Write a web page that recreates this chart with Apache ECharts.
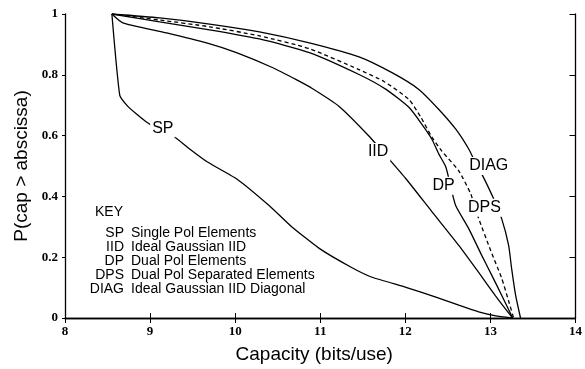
<!DOCTYPE html>
<html>
<head>
<meta charset="utf-8">
<script src="https://cdn.jsdelivr.net/npm/echarts@6/dist/echarts.min.js"></script>
<style>
  html, body { margin: 0; padding: 0; background: #fff; }
  #chart { width: 585px; height: 369px; }
</style>
</head>
<body>
<div id="chart"></div>
<script>
// Complementary CDF of capacity for five array configurations
const spCap   = [8.551, 8.644, 8.738, 8.844, 8.961, 9.113, 9.277, 9.465, 9.675, 10.015, 10.402, 10.660, 10.988, 11.363, 11.609, 12.007, 12.359, 12.628, 12.862, 13.062, 13.249];
const spProb  = [1.0, 0.732, 0.696, 0.670, 0.644, 0.618, 0.598, 0.556, 0.513, 0.458, 0.369, 0.301, 0.229, 0.167, 0.134, 0.101, 0.069, 0.042, 0.020, 0.007, 0.0];

const iidCap  = [8.551, 8.680, 9.195, 9.664, 10.015, 10.437, 10.718, 10.906, 11.222, 11.574, 11.808, 12.007, 12.312, 12.628, 12.862, 13.062, 13.179, 13.261];
const iidProb = [1.0, 0.971, 0.938, 0.905, 0.873, 0.824, 0.784, 0.755, 0.696, 0.598, 0.523, 0.458, 0.350, 0.239, 0.150, 0.072, 0.029, 0.0];

const dpCap   = [8.551, 9.113, 9.699, 10.285, 10.871, 11.456, 11.773, 12.042, 12.195, 12.312, 12.394, 12.476, 12.534, 12.593, 12.745, 12.898, 13.015, 13.132, 13.249, 13.260];
const dpProb  = [1.0, 0.974, 0.948, 0.918, 0.873, 0.801, 0.752, 0.693, 0.637, 0.588, 0.539, 0.497, 0.431, 0.369, 0.294, 0.206, 0.141, 0.075, 0.007, 0.0];

const dpsCap  = [8.551, 9.113, 9.699, 10.285, 10.871, 11.456, 11.749, 12.042, 12.183, 12.312, 12.429, 12.628, 12.769, 12.815, 12.862, 13.003, 13.132, 13.214, 13.273];
const dpsProb = [1.0, 0.980, 0.958, 0.928, 0.886, 0.817, 0.778, 0.719, 0.660, 0.595, 0.549, 0.484, 0.408, 0.366, 0.327, 0.222, 0.131, 0.056, 0.0];

const diagCap  = [8.551, 9.113, 9.699, 10.285, 10.871, 11.456, 11.843, 12.159, 12.394, 12.593, 12.745, 12.815, 12.898, 13.038, 13.132, 13.214, 13.249, 13.296, 13.354];
const diagProb = [1.0, 0.987, 0.967, 0.941, 0.905, 0.859, 0.807, 0.752, 0.686, 0.621, 0.556, 0.516, 0.474, 0.392, 0.327, 0.239, 0.163, 0.075, 0.0];

// In-plot curve tags
const tagNames = ['SP', 'IID', 'DP', 'DPS', 'DIAG'];
const tagCap   = [9.15, 11.68, 12.45, 12.93, 12.98];
const tagProb  = [0.624, 0.546, 0.435, 0.363, 0.500];

// Key entries
const keyAbbr = ['SP', 'IID', 'DP', 'DPS', 'DIAG'];
const keyDesc = ['Single Pol Elements', 'Ideal Gaussian IID', 'Dual Pol Elements', 'Dual Pol Separated Elements', 'Ideal Gaussian IID Diagonal'];

// Axis tick labels
const xTickLabels = ['8', '9', '10', '11', '12', '13', '14'];
const yTickLabels = ['0', '0.2', '0.4', '0.6', '0.8', '1'];

const zip = (xs, ys) => xs.map((x, i) => [x, ys[i]]);

const INK = '#000';
const tickFont = { fontFamily: 'Liberation Serif', fontSize: 13, fontWeight: 'bold', color: INK };
const sansFont = 'Liberation Sans, Arial, Helvetica, sans-serif';

function curve(name, xs, ys, dashed, smooth) {
  return {
    name, type: 'line', data: zip(xs, ys), symbol: 'none',
    smooth: smooth,
    lineStyle: { color: INK, width: 1.3, type: dashed ? [4, 3] : 'solid' },
    z: 2
  };
}

const keyGraphics = [];
keyGraphics.push({ type: 'text', left: 95, top: 205, style: { text: 'KEY', font: '14px ' + sansFont, fill: INK } });
keyAbbr.forEach((a, i) => {
  keyGraphics.push({ type: 'text', x: 124, y: 233 + i * 14, style: { text: a, font: '14px ' + sansFont, fill: INK, align: 'right', verticalAlign: 'middle' } });
  keyGraphics.push({ type: 'text', x: 131, y: 233 + i * 14, style: { text: keyDesc[i], font: '14px ' + sansFont, fill: INK, align: 'left', verticalAlign: 'middle' } });
});

const chart = echarts.init(document.getElementById('chart'), null, { renderer: 'canvas' });
chart.setOption({
  animation: false,
  backgroundColor: '#fff',
  grid: { left: 65, right: 7, top: 14, bottom: 49, containLabel: false },
  xAxis: [
    {
      type: 'value', min: 8, max: 14, interval: 1, position: 'bottom',
      name: 'Capacity (bits/use)', nameLocation: 'middle', nameGap: 27,
      nameTextStyle: { fontFamily: sansFont, fontSize: 19, color: INK, padding: [0, 12, 0, 0] },
      axisLine: { show: true, lineStyle: { color: INK, width: 1.3 } },
      axisTick: { show: true, inside: true, length: 5, lineStyle: { color: INK } },
      axisLabel: Object.assign({ margin: 7, formatter: (v) => xTickLabels[Math.round(v - 8)] }, tickFont),
      splitLine: { show: false }
    },
    {
      type: 'value', min: 8, max: 14, interval: 1, position: 'top',
      axisLine: { show: true, lineStyle: { color: INK, width: 1.3 } },
      axisTick: { show: true, inside: true, length: 5, lineStyle: { color: INK } },
      axisLabel: { show: false }, splitLine: { show: false }
    }
  ],
  yAxis: [
    {
      type: 'value', min: 0, max: 1, interval: 0.2, position: 'left',
      name: 'P(cap > abscissa)', nameLocation: 'middle', nameGap: 32,
      nameTextStyle: { fontFamily: sansFont, fontSize: 19, color: INK },
      axisLine: { show: true, lineStyle: { color: INK, width: 1.3 } },
      axisTick: { show: true, inside: false, length: 3, lineStyle: { color: INK } },
      axisLabel: Object.assign({ margin: 7, formatter: (v) => yTickLabels[Math.round(v * 5)] }, tickFont),
      splitLine: { show: false }
    },
    {
      type: 'value', min: 0, max: 1, interval: 0.2, position: 'right',
      axisLine: { show: true, lineStyle: { color: INK, width: 1.3 } },
      axisTick: { show: true, inside: true, length: 6, lineStyle: { color: INK } },
      axisLabel: { show: false }, splitLine: { show: false }
    }
  ],
  series: [
    curve('SP', spCap, spProb, false, 0.15),
    curve('IID', iidCap, iidProb, false, 0.2),
    curve('DP', dpCap, dpProb, false, 0.2),
    curve('DPS', dpsCap, dpsProb, true, 0.2),
    curve('DIAG', diagCap, diagProb, false, 0.2),
    {
      name: 'tags', type: 'scatter', symbolSize: 1, z: 5,
      itemStyle: { opacity: 1, color: '#fff' },
      data: tagNames.map((n, i) => ({ name: n, value: [tagCap[i], tagProb[i]] })),
      label: {
        show: true, position: 'inside', formatter: (p) => p.name,
        fontFamily: sansFont, fontSize: 16, color: INK, opacity: 1,
        backgroundColor: '#fff', padding: [1, 2]
      },
      silent: true
    }
  ],
  graphic: keyGraphics
});
</script>
</body>
</html>
